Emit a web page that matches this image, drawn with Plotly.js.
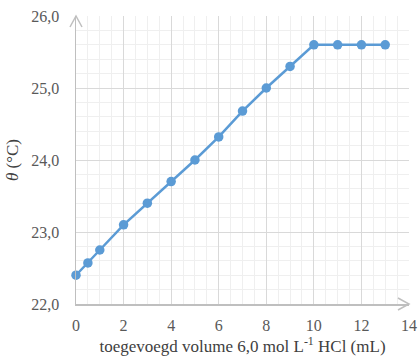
<!DOCTYPE html>
<html>
<head>
<meta charset="utf-8">
<script src="https://cdn.plot.ly/plotly-3.0.1.min.js"></script>
<style>html,body{margin:0;padding:0;background:#fff;}#chart{width:419px;height:359px;}</style>
</head>
<body>
<div id="chart"></div>
<script>
const volume = [0, 0.5, 1, 2, 3, 4, 5, 6, 7, 8, 9, 10, 11, 12, 13];
const temperature = [22.4, 22.57, 22.75, 23.1, 23.4, 23.7, 24.0, 24.32, 24.68, 25.0, 25.3, 25.6, 25.6, 25.6, 25.6];
const xTitle = 'toegevoegd volume 6,0 mol L<sup>-1</sup> HCl (mL)';
const yTitle = '<i>θ</i> (°C)';

const serif = 'Liberation Serif';
const trace = {
  x: volume, y: temperature, type: 'scatter', mode: 'lines+markers',
  line: {color: '#5b9bd5', width: 2.5},
  marker: {color: '#5b9bd5', size: 9.5},
  cliponaxis: false, hoverinfo: 'none'
};
const layout = {
  width: 419, height: 359,
  margin: {l: 76, r: 10, t: 16, b: 55},
  paper_bgcolor: '#fff', plot_bgcolor: '#fff',
  separators: ',.',
  showlegend: false,
  font: {family: serif, size: 14, color: '#595959'},
  xaxis: {
    range: [0, 14], dtick: 2, tick0: 0, showgrid: true, gridcolor: '#d9d9d9', gridwidth: 1,
    minor: {dtick: 0.5, showgrid: true, gridcolor: '#efefef', gridwidth: 1},
    showline: true, linecolor: '#bfbfbf', linewidth: 1.5, zeroline: false,
    tickfont: {family: serif, size: 16, color: '#595959'}, ticks: '', ticklabelstandoff: 6,
    title: {text: xTitle, font: {family: serif, size: 17, color: '#404040'}, standoff: 7}
  },
  yaxis: {
    range: [22, 26], dtick: 1, tick0: 22, tickformat: '.1f', showgrid: true, gridcolor: '#d9d9d9', gridwidth: 1,
    minor: {dtick: 0.2, showgrid: true, gridcolor: '#efefef', gridwidth: 1},
    showline: true, linecolor: '#bfbfbf', linewidth: 1.5, zeroline: false,
    tickfont: {family: serif, size: 16, color: '#595959'}, ticks: '', ticklabelstandoff: 12,
    title: {text: yTitle, font: {family: serif, size: 17, color: '#404040'}, standoff: 8}
  },
  shapes: [
    {type: 'path', xref: 'paper', yref: 'paper', xsizemode: 'pixel', ysizemode: 'pixel', xanchor: 0, yanchor: 1,
     path: 'M-6,-11 L0,0 L6,-11', line: {color: '#bfbfbf', width: 1.5}},
    {type: 'path', xref: 'paper', yref: 'paper', xsizemode: 'pixel', ysizemode: 'pixel', xanchor: 1, yanchor: 0,
     path: 'M-11,-6 L0,0 L-11,6', line: {color: '#bfbfbf', width: 1.5}}
  ]
};
Plotly.newPlot('chart', [trace], layout, {displayModeBar: false, staticPlot: true});
</script>
</body>
</html>
